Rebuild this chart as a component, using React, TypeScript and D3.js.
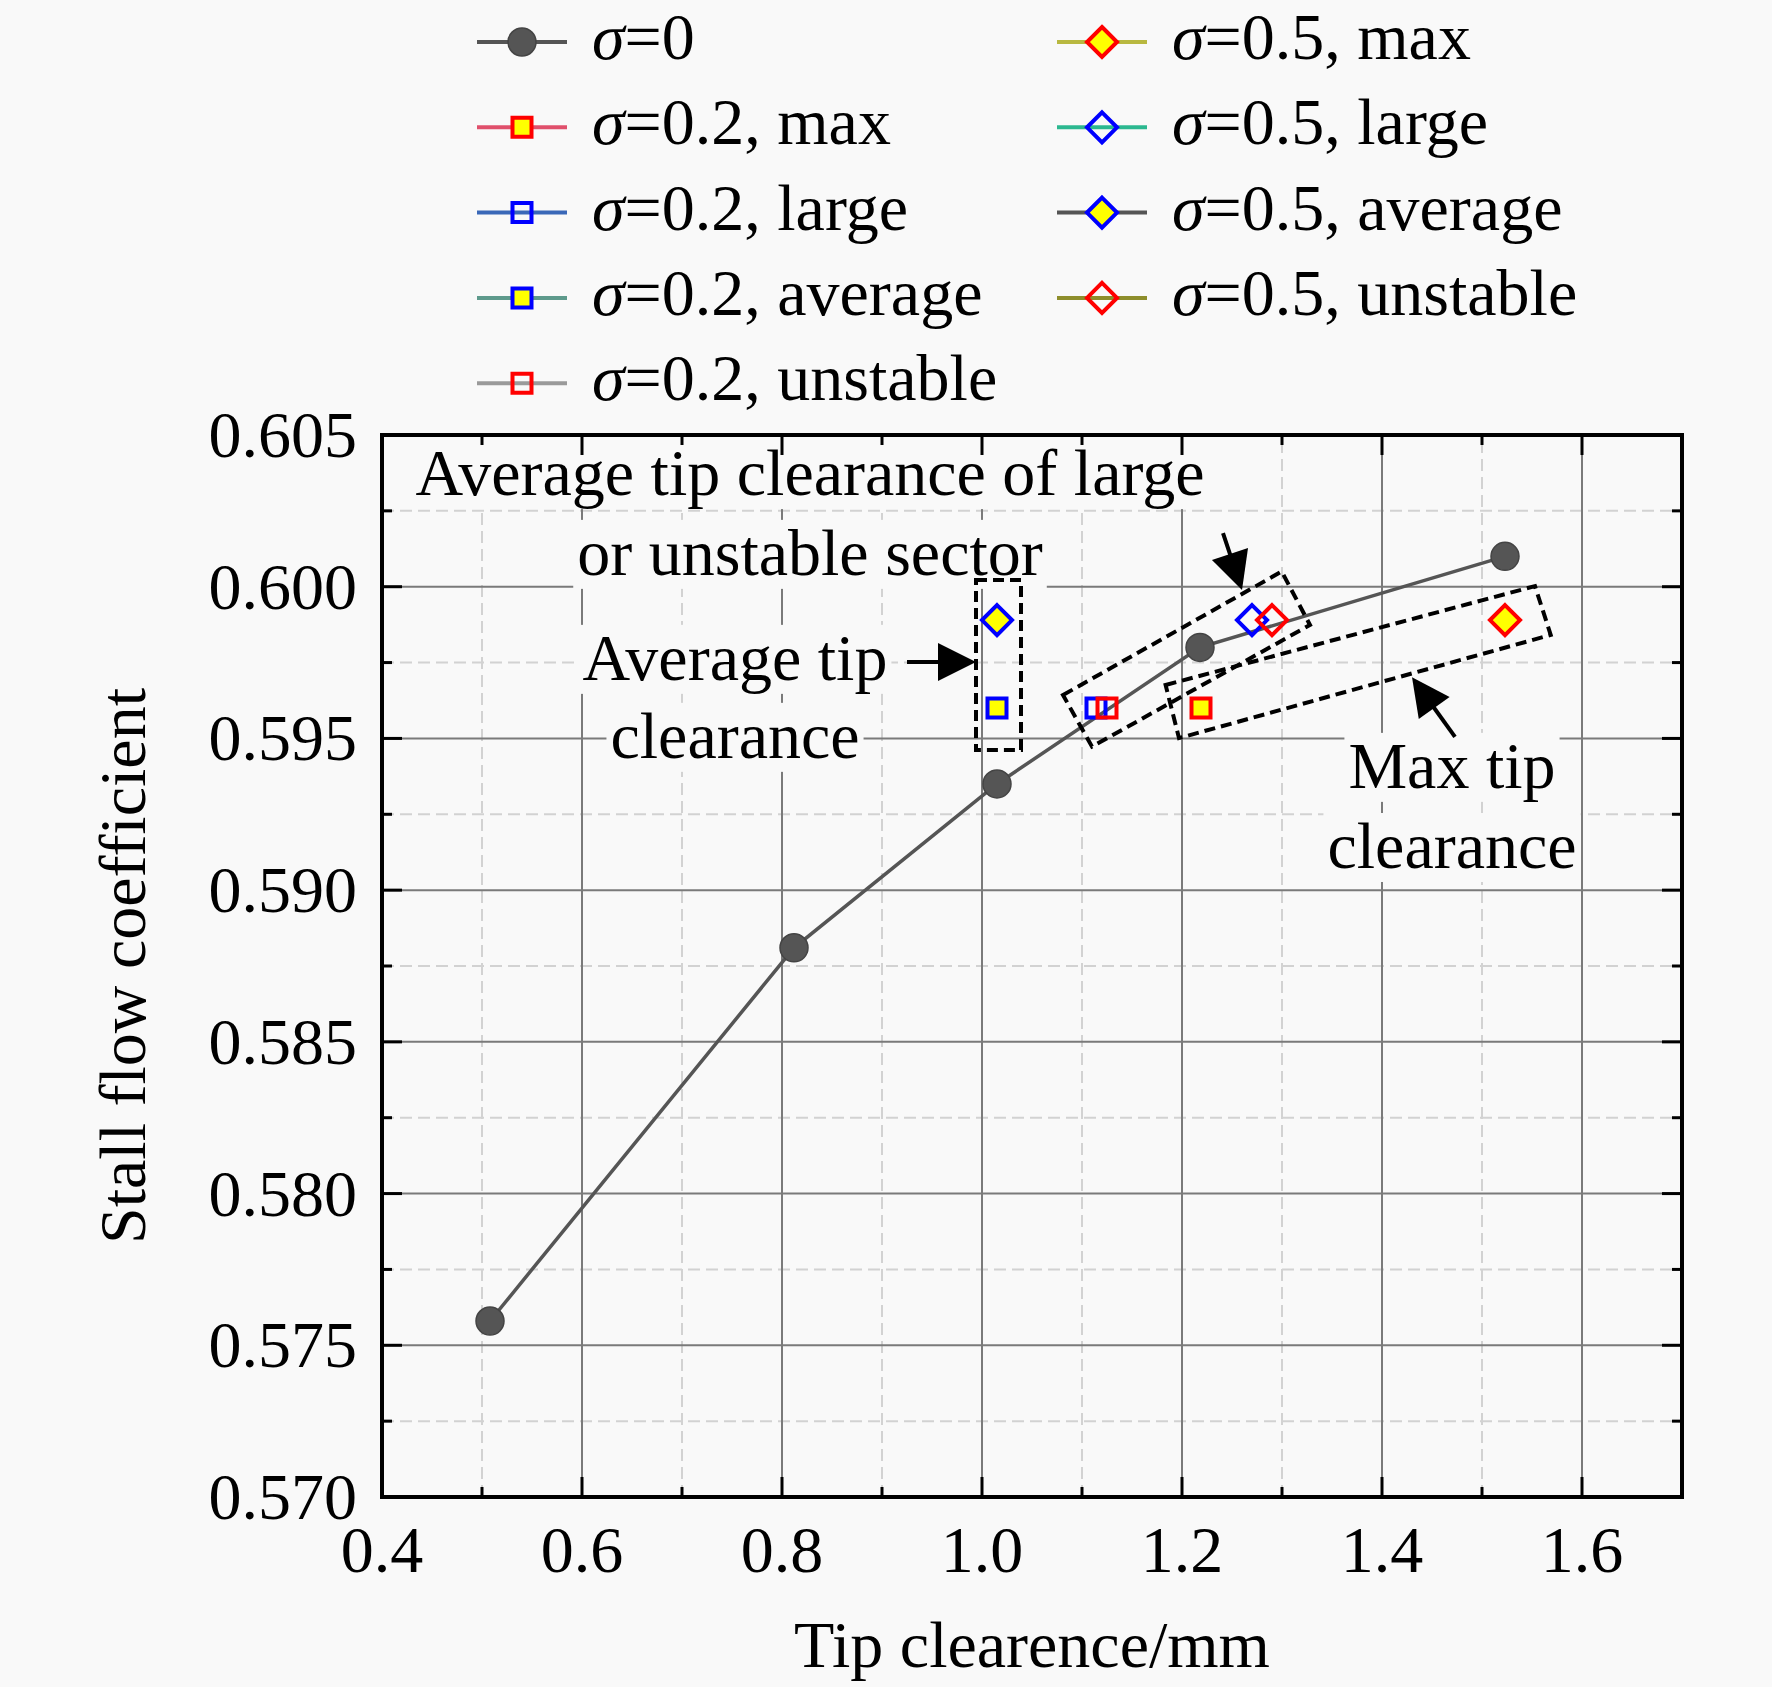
import * as d3 from "d3";
import { useEffect, useRef } from "react";

// axis ticks
const xMajor = [0.4, 0.6, 0.8, 1.0, 1.2, 1.4, 1.6];
const xMinor = [0.5, 0.7, 0.9, 1.1, 1.3, 1.5, 1.7];
const yMajor = [0.57, 0.575, 0.58, 0.585, 0.59, 0.595, 0.6, 0.605];
const yMinor = [0.5725, 0.5775, 0.5825, 0.5875, 0.5925, 0.5975, 0.6025];

// sigma = 0 (uniform tip clearance)
const sigma0X = [0.508, 0.812, 1.015, 1.218, 1.523];
const sigma0Y = [0.5758, 0.5881, 0.5935, 0.598, 0.601];

// non-uniform cases, order: max, large, average, unstable
const sectors = ["max", "large", "average", "unstable"];
const sigma02X = [1.219, 1.114, 1.015, 1.125];
const sigma02Y = [0.596, 0.596, 0.596, 0.596];
const sigma05X = [1.523, 1.27, 1.015, 1.29];
const sigma05Y = [0.5989, 0.5989, 0.5989, 0.5989];

// annotations (data coords)
const boxAvg = [[0.994, 0.60022], [1.039, 0.60022], [1.039, 0.59462], [0.994, 0.59462]];
const boxLarge = [[1.081, 0.59643], [1.2997, 0.6005], [1.328, 0.59874], [1.11, 0.59473]];
const boxMax = [[1.1836, 0.59676], [1.553, 0.60002], [1.5687, 0.59841], [1.197, 0.59501]];
const arrows = [
    [[0.925, 0.59752], [0.994, 0.59752]],
    [[1.241, 0.60177], [1.26, 0.59989]],
    [[1.473, 0.59505], [1.43, 0.59702]],
];
const notes = [
    { text: "Average tip clearance of large", x: 0.828, y: 0.60302 },
    { text: "or unstable sector", x: 0.828, y: 0.60039 },
    { text: "Average tip", x: 0.753, y: 0.59693 },
    { text: "clearance", x: 0.753, y: 0.59436 },
    { text: "Max tip", x: 1.47, y: 0.59337 },
    { text: "clearance", x: 1.47, y: 0.59073 },
];

const FONT = "'Liberation Serif', 'Times New Roman', serif";
const FS = 66;
const BG = "#f9f9f9";

const lineColors02 = ["#e0506c", "#3a68b8", "#5e9a8c", "#9a9a9a"];
const lineColors05 = ["#b8b840", "#2cb890", "#555555", "#8e8e2c"];
const strokes = ["#ff0000", "#0000ff", "#0000ff", "#ff0000"];
const fills = ["#ffff00", "none", "#ffff00", "none"];

export default function App() {
    const ref = useRef<SVGSVGElement | null>(null);

    useEffect(() => {
        if (!ref.current) return;
        const svg = d3.select(ref.current);
        svg.selectAll("*").remove();

        const width = 1772;
        const height = 1687;
        const margin = { top: 435, right: 90, bottom: 190, left: 382 };

        const x = d3
            .scaleLinear()
            .domain([0.4, 1.7])
            .range([margin.left, width - margin.right]);
        const y = d3
            .scaleLinear()
            .domain([0.57, 0.605])
            .range([height - margin.bottom, margin.top]);

        svg.append("rect")
            .attr("width", width)
            .attr("height", height)
            .attr("fill", BG);

        const [x0, x1] = x.range();
        const [y0, y1] = y.range();

        // grid
        const grid = svg.append("g");
        grid.selectAll(".vminor")
            .data(xMinor.filter((d) => d < 1.7))
            .join("line")
            .attr("x1", (d) => x(d))
            .attr("x2", (d) => x(d))
            .attr("y1", y0)
            .attr("y2", y1)
            .attr("stroke", "#d2d2d2")
            .attr("stroke-width", 2)
            .attr("stroke-dasharray", "12 6");
        grid.selectAll(".hminor")
            .data(yMinor)
            .join("line")
            .attr("x1", x0)
            .attr("x2", x1)
            .attr("y1", (d) => y(d))
            .attr("y2", (d) => y(d))
            .attr("stroke", "#d2d2d2")
            .attr("stroke-width", 2)
            .attr("stroke-dasharray", "12 6");
        grid.selectAll(".vmajor")
            .data(xMajor.slice(1))
            .join("line")
            .attr("x1", (d) => x(d))
            .attr("x2", (d) => x(d))
            .attr("y1", y0)
            .attr("y2", y1)
            .attr("stroke", "#7a7a7a")
            .attr("stroke-width", 2);
        grid.selectAll(".hmajor")
            .data(yMajor.slice(1, -1))
            .join("line")
            .attr("x1", x0)
            .attr("x2", x1)
            .attr("y1", (d) => y(d))
            .attr("y2", (d) => y(d))
            .attr("stroke", "#7a7a7a")
            .attr("stroke-width", 2);

        // annotation texts with a background patch
        const noteG = svg.append("g");
        notes.forEach((n) => {
            const t = noteG
                .append("text")
                .attr("x", x(n.x))
                .attr("y", y(n.y))
                .attr("text-anchor", "middle")
                .attr("font-family", FONT)
                .attr("font-size", FS)
                .attr("fill", "#000")
                .text(n.text);
            const b = (t.node() as SVGTextElement).getBBox();
            noteG
                .insert("rect", () => t.node())
                .attr("x", b.x - 4)
                .attr("y", b.y + 4)
                .attr("width", b.width + 8)
                .attr("height", b.height - 4)
                .attr("fill", BG);
        });

        // sigma = 0 line
        const line = d3
            .line<number>()
            .x((d) => x(sigma0X[d]))
            .y((d) => y(sigma0Y[d]));
        svg.append("path")
            .datum(d3.range(sigma0X.length))
            .attr("d", line)
            .attr("fill", "none")
            .attr("stroke", "#555")
            .attr("stroke-width", 3.5);
        svg.selectAll(".s0")
            .data(d3.range(sigma0X.length))
            .join("circle")
            .attr("cx", (d) => x(sigma0X[d]))
            .attr("cy", (d) => y(sigma0Y[d]))
            .attr("r", 14)
            .attr("fill", "#555")
            .attr("stroke", "#444")
            .attr("stroke-width", 1.5);

        const square = d3.symbol(d3.symbolSquare, 19 * 19);
        const diamond = (s: number) =>
            `M0,${-s}L${s},0L0,${s}L${-s},0Z`;

        // sigma = 0.2 squares
        sectors.forEach((_, i) => {
            svg.append("path")
                .attr("d", square()!)
                .attr(
                    "transform",
                    `translate(${x(sigma02X[i])},${y(sigma02Y[i])})`,
                )
                .attr("fill", fills[i])
                .attr("stroke", strokes[i])
                .attr("stroke-width", 4);
        });
        // sigma = 0.5 diamonds
        sectors.forEach((_, i) => {
            svg.append("path")
                .attr("d", diamond(15))
                .attr(
                    "transform",
                    `translate(${x(sigma05X[i])},${y(sigma05Y[i])})`,
                )
                .attr("fill", fills[i])
                .attr("stroke", strokes[i])
                .attr("stroke-width", 4);
        });

        // dashed boxes
        [boxAvg, boxLarge, boxMax].forEach((box) => {
            svg.append("polygon")
                .attr("points", box.map((p) => `${x(p[0])},${y(p[1])}`).join(" "))
                .attr("fill", "none")
                .attr("stroke", "#000")
                .attr("stroke-width", 4)
                .attr("stroke-dasharray", "11 6");
        });

        // arrows
        arrows.forEach(([from, to]) => {
            const ax = x(from[0]);
            const ay = y(from[1]);
            const bx = x(to[0]);
            const by = y(to[1]);
            const len = Math.hypot(bx - ax, by - ay);
            const ux = (bx - ax) / len;
            const uy = (by - ay) / len;
            const head = 38;
            const half = 19;
            const hx = bx - ux * head;
            const hy = by - uy * head;
            svg.append("line")
                .attr("x1", ax)
                .attr("y1", ay)
                .attr("x2", hx + ux * 4)
                .attr("y2", hy + uy * 4)
                .attr("stroke", "#000")
                .attr("stroke-width", 4);
            svg.append("polygon")
                .attr(
                    "points",
                    `${bx},${by} ${hx - uy * half},${hy + ux * half} ${hx + uy * half},${hy - ux * half}`,
                )
                .attr("fill", "#000");
        });

        // frame and ticks
        const axes = svg.append("g").attr("stroke", "#000");
        const tickLines = (
            vals: number[],
            len: number,
            vertical: boolean,
        ) => {
            vals.forEach((v) => {
                if (vertical) {
                    const px = x(v);
                    axes.append("line").attr("x1", px).attr("x2", px)
                        .attr("y1", y0).attr("y2", y0 - len).attr("stroke-width", 3);
                    axes.append("line").attr("x1", px).attr("x2", px)
                        .attr("y1", y1).attr("y2", y1 + len).attr("stroke-width", 3);
                } else {
                    const py = y(v);
                    axes.append("line").attr("y1", py).attr("y2", py)
                        .attr("x1", x0).attr("x2", x0 + len).attr("stroke-width", 3);
                    axes.append("line").attr("y1", py).attr("y2", py)
                        .attr("x1", x1).attr("x2", x1 - len).attr("stroke-width", 3);
                }
            });
        };
        tickLines(xMajor, 20, true);
        tickLines(xMinor, 10, true);
        tickLines(yMajor, 20, false);
        tickLines(yMinor, 10, false);
        axes.append("rect")
            .attr("x", x0)
            .attr("y", y1)
            .attr("width", x1 - x0)
            .attr("height", y0 - y1)
            .attr("fill", "none")
            .attr("stroke-width", 4);

        // tick labels
        const fx = d3.format(".1f");
        const fy = d3.format(".3f");
        svg.selectAll(".xl")
            .data(xMajor)
            .join("text")
            .attr("x", (d) => x(d))
            .attr("y", y0 + 75)
            .attr("text-anchor", "middle")
            .attr("font-family", FONT)
            .attr("font-size", FS)
            .text((d) => fx(d));
        svg.selectAll(".yl")
            .data(yMajor)
            .join("text")
            .attr("x", x0 - 25)
            .attr("y", (d) => y(d) + 22)
            .attr("text-anchor", "end")
            .attr("font-family", FONT)
            .attr("font-size", FS)
            .text((d) => fy(d));

        // axis titles
        svg.append("text")
            .attr("x", (x0 + x1) / 2)
            .attr("y", 1667)
            .attr("text-anchor", "middle")
            .attr("font-family", FONT)
            .attr("font-size", FS)
            .text("Tip clearence/mm");
        svg.append("text")
            .attr("transform", `translate(145,${(y0 + y1) / 2}) rotate(-90)`)
            .attr("text-anchor", "middle")
            .attr("font-family", FONT)
            .attr("font-size", FS)
            .text("Stall flow coefficient");

        // legend
        const legendItems = [
            { label: "=0", line: "#555555", shape: "circle", stroke: "#444", fill: "#555" },
            ...sectors.map((s, i) => ({
                label: `=0.2, ${s}`,
                line: lineColors02[i],
                shape: "square",
                stroke: strokes[i],
                fill: fills[i],
            })),
            ...sectors.map((s, i) => ({
                label: `=0.5, ${s}`,
                line: lineColors05[i],
                shape: "diamond",
                stroke: strokes[i],
                fill: fills[i],
            })),
        ];
        const rowY = (r: number) => 42 + r * 85.3;
        legendItems.forEach((item, i) => {
            const col = i < 5 ? 0 : 1;
            const row = i < 5 ? i : i - 5;
            const cx = col === 0 ? 522 : 1102;
            const cy = rowY(row);
            const g = svg.append("g").attr("transform", `translate(${cx},${cy})`);
            g.append("line")
                .attr("x1", -45)
                .attr("x2", 45)
                .attr("stroke", item.line)
                .attr("stroke-width", 4);
            if (item.shape === "circle") {
                g.append("circle")
                    .attr("r", 14)
                    .attr("fill", item.fill)
                    .attr("stroke", item.stroke)
                    .attr("stroke-width", 1.5);
            } else {
                g.append("path")
                    .attr("d", item.shape === "square" ? square()! : diamond(15))
                    .attr("fill", item.fill)
                    .attr("stroke", item.stroke)
                    .attr("stroke-width", 4);
            }
            const t = g
                .append("text")
                .attr("x", 70)
                .attr("y", 17)
                .attr("font-family", FONT)
                .attr("font-size", FS);
            t.append("tspan").attr("font-style", "italic").text("σ");
            t.append("tspan").text(item.label);
        });
    }, []);

    return (
        <svg
            ref={ref}
            width={1772}
            height={1687}
            style={{ position: "absolute", left: 0, top: 0 }}
        ></svg>
    );
}
